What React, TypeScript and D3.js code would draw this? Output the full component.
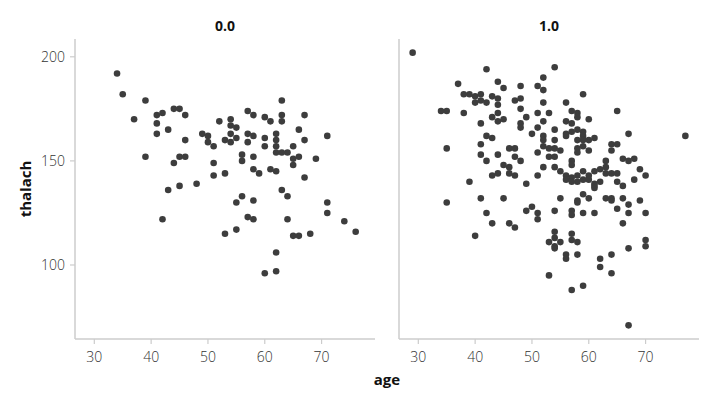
import React from 'react';
import * as d3 from 'd3';

// facet labels (sex) and axis ticks
const facets = ['0.0', '1.0'];
const xTicks = [30, 40, 50, 60, 70];
const yTicks = [100, 150, 200];

// [age, thalach], one list per facet
const panel0: [number, number][] = [
  [34, 192], [35, 182], [37, 170], [39, 179],
  [41, 172], [42, 173], [44, 175], [45, 175], [46, 172],
  [41, 168], [41, 163], [43, 165], [46, 160],
  [52, 169], [54, 170], [54, 167], [55, 166], [54, 163],
  [57, 174], [58, 172], [60, 171], [61, 169], [63, 179], [63, 172], [63, 169],
  [67, 172], [66, 165], [71, 162], [67, 160],
  [49, 163], [50, 162], [50, 159], [51, 157],
  [53, 160], [55, 161], [54, 159],
  [57, 163], [58, 162], [57, 159],
  [60, 161], [60, 157], [62, 163], [62, 160], [62, 157], [62, 154], [63, 154], [64, 154],
  [65, 157],
  [39, 152], [44, 149], [45, 152], [46, 152], [51, 149], [56, 153], [56, 150], [58, 152],
  [65, 151], [66, 152], [65, 148], [69, 151],
  [51, 143], [53, 144], [58, 146], [59, 144], [61, 146], [62, 145], [67, 142],
  [43, 136], [45, 138], [48, 139], [63, 136], [64, 133],
  [55, 130], [56, 133], [58, 131], [71, 130], [71, 125],
  [42, 122], [57, 123], [58, 122], [64, 122], [74, 121], [76, 116],
  [53, 115], [55, 117], [65, 114], [66, 114], [68, 115],
  [62, 106], [60, 96], [62, 97],
];

const panel1: [number, number][] = [
  [29, 202], [54, 195], [42, 194], [52, 190], [37, 187], [44, 188], [45, 185],
  [48, 186], [51, 186], [52, 184], [59, 182],
  [38, 182], [39, 182], [40, 181], [41, 182], [40, 178], [41, 179], [42, 178],
  [43, 181], [44, 180], [44, 177],
  [47, 179], [48, 180], [48, 175], [52, 178], [56, 178],
  [34, 174], [35, 174], [38, 173],
  [43, 171], [44, 173], [44, 169], [45, 170], [41, 168],
  [49, 171], [48, 168], [48, 166],
  [51, 173], [53, 173], [52, 169], [51, 166], [50, 163],
  [57, 174], [58, 173], [58, 171], [56, 169], [57, 168], [60, 170], [65, 174],
  [54, 165], [56, 163], [56, 162],
  [57, 164], [58, 165], [59, 164], [59, 162], [59, 160], [60, 160], [61, 161], [58, 160],
  [67, 163], [77, 162],
  [42, 162], [43, 161],
  [52, 162], [52, 160], [52, 157], [54, 160],
  [35, 156], [41, 158], [46, 156], [47, 156],
  [51, 154], [53, 152], [54, 152],
  [53, 156], [54, 156], [55, 155],
  [58, 156], [58, 154], [60, 155], [59, 157],
  [64, 158], [65, 158], [64, 155],
  [41, 153], [42, 150], [44, 153], [47, 152], [48, 150],
  [45, 148], [46, 147], [46, 144], [47, 143],
  [43, 143], [44, 144],
  [51, 143], [52, 147], [54, 147], [55, 145],
  [57, 150], [57, 148],
  [56, 143], [57, 142], [58, 143], [59, 145], [60, 143], [61, 145], [62, 146], [63, 147],
  [63, 150],
  [56, 141], [57, 140], [58, 140], [59, 141], [60, 141], [61, 139], [61, 138], [62, 140],
  [63, 144], [64, 144], [65, 144],
  [66, 151], [67, 150], [68, 151],
  [69, 146], [70, 143],
  [65, 140], [66, 138], [68, 141],
  [39, 140], [49, 139], [61, 137],
  [35, 130], [41, 132], [45, 132], [42, 125], [43, 120], [46, 120], [47, 118], [40, 114],
  [49, 126], [50, 128], [51, 125], [51, 122],
  [55, 132], [58, 131], [58, 130], [59, 134], [60, 132], [63, 132], [64, 132], [64, 131],
  [66, 132], [67, 129], [69, 131], [65, 127],
  [54, 126], [57, 126], [57, 124], [59, 125], [61, 125], [67, 125], [70, 125],
  [66, 120],
  [54, 116], [54, 113], [53, 111], [55, 111], [54, 109], [54, 108],
  [57, 115], [57, 112], [58, 111],
  [56, 105], [56, 103], [58, 105],
  [62, 103], [62, 99], [64, 105], [64, 96], [67, 108], [70, 112], [70, 109],
  [53, 95], [57, 88], [59, 90], [67, 71],
];

const width = 715;
const height = 405;
const panels = [
  { title: facets[0], data: panel0, left: 75, right: 375 },
  { title: facets[1], data: panel1, left: 399, right: 699 },
];
const top = 39;
const bottom = 339;
const axisColor = '#cccccc';
const textColor = '#333333';
const font = '"Open Sans", sans-serif';

export default function App() {
  const y = d3.scaleLinear().domain([64.45, 208.55]).range([bottom, top]);

  return (
    <svg
      width={width}
      height={height}
      style={{ position: 'absolute', left: 0, top: 0, background: '#fff' }}
      fontFamily={font}
    >
      {panels.map((p, i) => {
        const x = d3.scaleLinear().domain([26.6, 79.4]).range([p.left, p.right]);
        return (
          <g key={p.title}>
            <text
              x={(p.left + p.right) / 2}
              y={31}
              textAnchor="middle"
              fontSize={14}
              fontWeight={700}
              fill="#111"
            >
              {p.title}
            </text>

            {p.data.map((d, j) => (
              <circle key={j} cx={x(d[0])} cy={y(d[1])} r={3.3} fill="#3d3d3d" />
            ))}

            <line x1={p.left} x2={p.left} y1={top} y2={bottom} stroke={axisColor} strokeWidth={1.5} />
            <line x1={p.left} x2={p.right} y1={bottom} y2={bottom} stroke={axisColor} strokeWidth={1.5} />

            {xTicks.map(t => (
              <g key={t} transform={`translate(${x(t)},${bottom})`}>
                <line y1={0} y2={5} stroke={axisColor} strokeWidth={1.2} />
                <text y={23} textAnchor="middle" fontSize={14} fontWeight={300} fill={textColor}>
                  {t}
                </text>
              </g>
            ))}

            {i === 0 &&
              yTicks.map(t => (
                <g key={t} transform={`translate(${p.left},${y(t)})`}>
                  <line x1={-5} x2={0} stroke={axisColor} strokeWidth={1.2} />
                  <text x={-10} dy="0.35em" textAnchor="end" fontSize={14} fontWeight={300} fill={textColor}>
                    {t}
                  </text>
                </g>
              ))}
          </g>
        );
      })}

      <text
        transform={`translate(31,${(top + bottom) / 2}) rotate(-90)`}
        textAnchor="middle"
        fontSize={15}
        fontWeight={700}
        fill="#111"
      >
        thalach
      </text>
      <text x={387} y={385} textAnchor="middle" fontSize={15} fontWeight={700} fill="#111">
        age
      </text>
    </svg>
  );
}
